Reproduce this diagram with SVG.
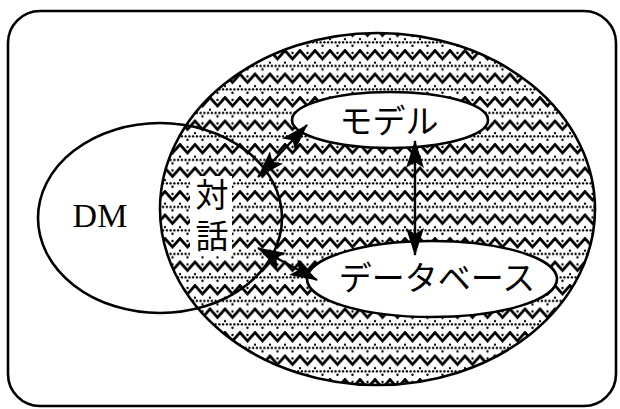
<svg xmlns="http://www.w3.org/2000/svg" width="620" height="409" viewBox="0 0 620 409">
  <style>
    .ol { fill: none; stroke: #000; stroke-width: 2.6; }
    .wh { fill: #fff; stroke: #000; stroke-width: 2.6; }
    .jp { font-family: "Noto Sans CJK JP", "Noto Sans", sans-serif; font-size: 33px; fill: #000; text-anchor: middle; }
    .en { font-family: "Liberation Serif", "DejaVu Serif", serif; font-size: 34px; fill: #000; text-anchor: middle; }
    .con { fill: none; stroke: #000; stroke-width: 2.4; }
  </style>
  <defs>
    <pattern id="zz" patternUnits="userSpaceOnUse" x="0" y="2" width="15" height="23.5">
      <rect width="15" height="23.5" fill="#fff"/>
      <polyline points="-7.5,10 0,1.5 7.5,10 15,1.5 22.5,10" fill="none" stroke="#000" stroke-width="2.8"/>
      <circle cx="7.5" cy="4" r="1.2"/>
      <circle cx="0" cy="13.6" r="1.15"/>
      <circle cx="15" cy="13.6" r="1.15"/>
      <circle cx="1.9" cy="16.9" r="1.15"/>
      <circle cx="5.6" cy="16.9" r="1.15"/>
      <circle cx="9.4" cy="16.9" r="1.15"/>
      <circle cx="13.1" cy="16.9" r="1.15"/>
      <circle cx="7.5" cy="20.4" r="1.2"/>
    </pattern>
    <marker id="ah" markerUnits="userSpaceOnUse" markerWidth="28" markerHeight="18" refX="27" refY="9" orient="auto-start-reverse" viewBox="0 0 28 18">
      <path d="M0,0 L28,9 L0,18 L6,9 Z" fill="#000"/>
    </marker>
  </defs>

  <g id="frame">
    <rect x="8" y="11" width="608" height="395" rx="32" ry="32" class="ol"/>
  </g>

  <g id="system">
    <ellipse cx="377.5" cy="209" rx="217.5" ry="176" fill="url(#zz)" stroke="#000" stroke-width="2.6"/>
  </g>

  <g id="dialog">
    <rect x="190" y="176" width="42" height="80" fill="#fff"/>
    <text x="212" y="177.5" class="jp" style="writing-mode: vertical-rl; text-anchor: start; letter-spacing: 8px;">対話</text>
  </g>

  <g id="model">
    <ellipse cx="390" cy="120" rx="98" ry="28" class="wh"/>
    <text x="389" y="133" class="jp">モデル</text>
  </g>

  <g id="database">
    <ellipse cx="432" cy="279" rx="125" ry="38" class="wh"/>
    <text x="437" y="289.5" class="jp">データベース</text>
  </g>

  <g id="dm">
    <ellipse cx="160" cy="218" rx="122" ry="95" class="ol"/>
    <text x="100" y="227" class="en">DM</text>
  </g>

  <g id="connectors">
    <line x1="415" y1="141" x2="415" y2="255" class="con" marker-start="url(#ah)" marker-end="url(#ah)"/>
    <line x1="258" y1="177" x2="307" y2="125" class="con" marker-start="url(#ah)" marker-end="url(#ah)"/>
    <line x1="258" y1="248" x2="317" y2="280" class="con" marker-start="url(#ah)" marker-end="url(#ah)"/>
  </g>
</svg>
